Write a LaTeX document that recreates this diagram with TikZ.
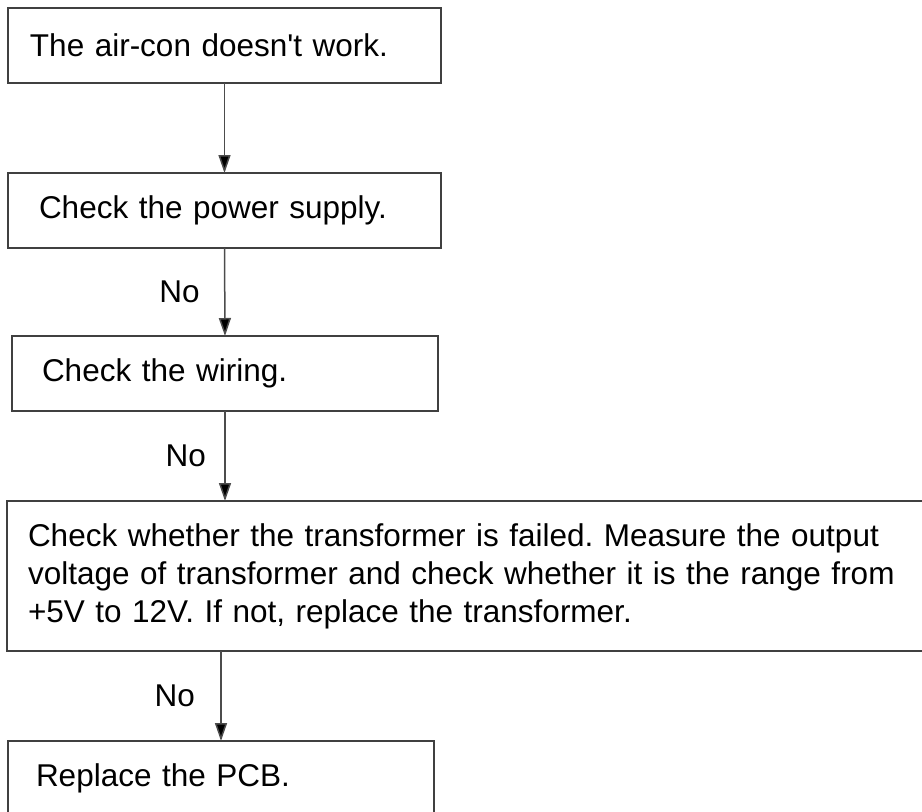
\documentclass[tikz,border=0pt]{standalone}
\usepackage{fontspec}
\setmainfont{Liberation Sans}
\usetikzlibrary{positioning,arrows.meta}
\frenchspacing

\tikzset{
  stepbox/.style={draw=black!75, line width=1.5pt, anchor=north west,
    align=left, minimum height=75pt, inner ysep=0pt, outer sep=0pt,
    font=\fontsize{31.5pt}{38pt}\selectfont},
  flow/.style={draw=black!70, line width=1.5pt,
    -{Triangle[length=18pt,width=12pt,fill=black]}},
  nolabel/.style={midway, font=\fontsize{31.5pt}{38pt}\selectfont}
}

\begin{document}
\begin{tikzpicture}[x=1pt, y=-1pt] % 1 unit = 1 px of the reference
    % --- page size ---
    \useasboundingbox (0, 0) rectangle (922, 812);

    % --- steps of the check ---
    \node[stepbox, minimum width=433pt, inner xsep=22pt, text width=389pt]
        (fault) at (8, 8) {The air-con doesn\textquotesingle t work.};
    \node[stepbox, minimum width=433pt, inner xsep=31pt, text width=371pt]
        (power) at (8, 173) {Check the power supply.};
    \node[stepbox, minimum width=426pt, inner xsep=30pt, text width=366pt]
        (wiring) at (12, 336) {Check the wiring.};
    % the long step runs past the right edge of the page
    \node[stepbox, minimum width=930pt, minimum height=150pt, inner xsep=21pt, text width=888pt]
        (transf) at (7, 501) {Check whether the transformer is failed. Measure the output\\
        voltage of transformer and check whether it is the range from\\
        +5V to 12V. If not, replace the transformer.};
    % the last step is cut by the bottom edge
    \node[stepbox, minimum width=426pt, inner xsep=28pt, text width=370pt]
        (pcb) at (8, 741) {Replace the PCB.};

    % --- arrows ---
    \draw[flow] (fault.south) -- (power.north);
    \draw[flow] (power.south) -- (wiring.north) node[nolabel, left=21pt] {No};
    \draw[flow] (wiring.south) -- (wiring.south |- transf.north) node[nolabel, left=15pt] {No};
    \draw[flow] (pcb.north |- transf.south) -- (pcb.north) node[nolabel, left=22pt] {No};

\end{tikzpicture}
\end{document}
